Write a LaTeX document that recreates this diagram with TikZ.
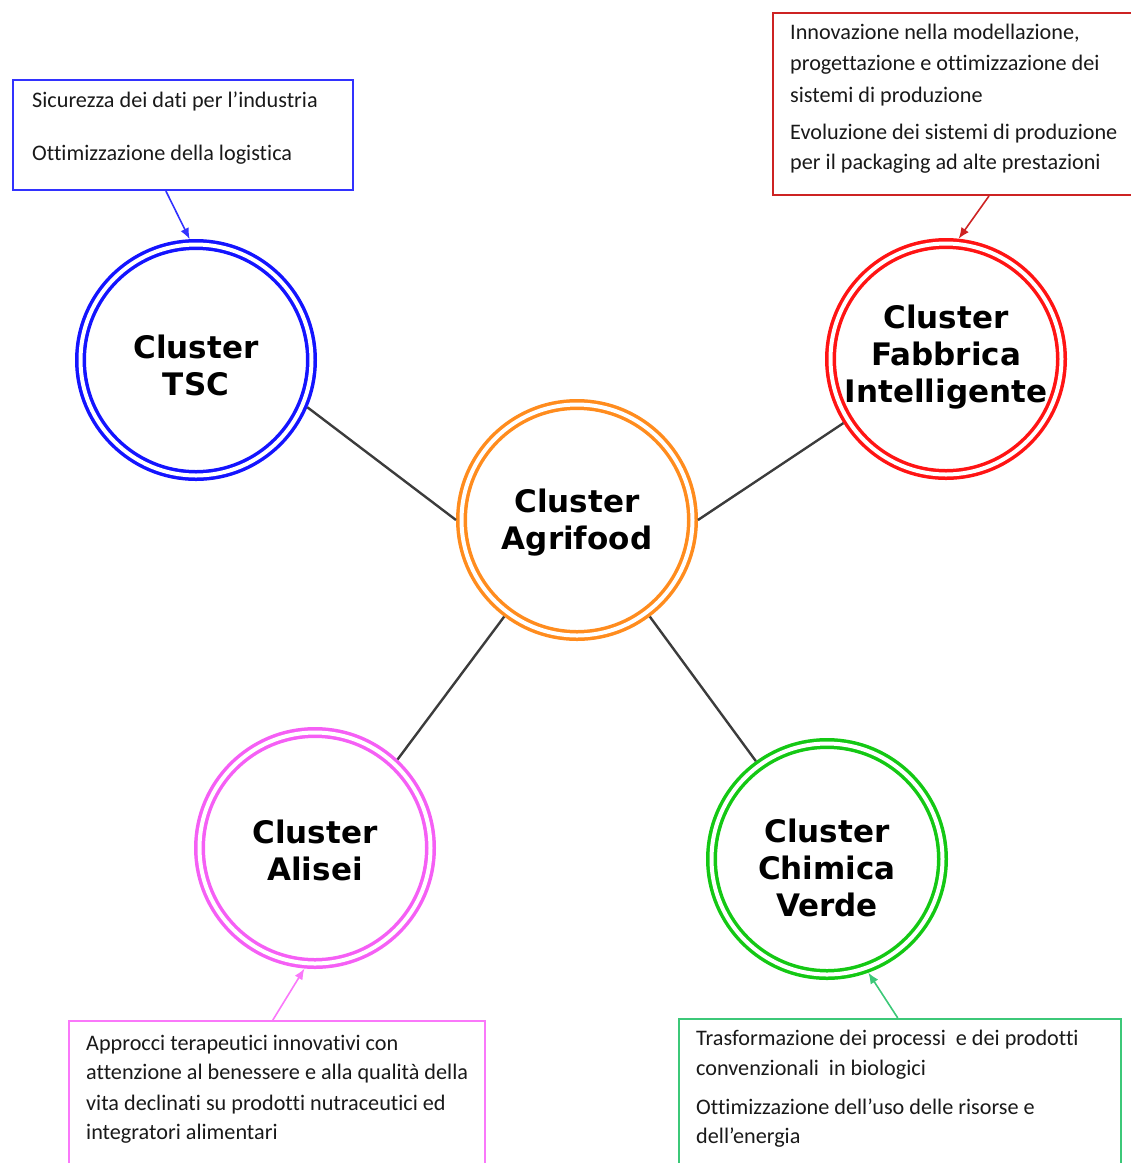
\documentclass[tikz,border=0pt]{standalone}
\usepackage{fontspec}
\setmainfont{Carlito}[Ligatures=NoCommon]
\newfontfamily\clusterfont{DejaVu Sans}
\usetikzlibrary{arrows.meta,calc}
\definecolor{cblue}{RGB}{20,20,255}
\definecolor{corange}{RGB}{255,140,30}
\definecolor{cred}{RGB}{255,20,20}
\definecolor{cpink}{RGB}{245,95,245}
\definecolor{cgreen}{RGB}{20,200,20}
\definecolor{bblue}{RGB}{50,50,255}
\definecolor{bred}{RGB}{205,35,35}
\definecolor{bpink}{RGB}{250,120,250}
\definecolor{bgreen}{RGB}{60,200,120}
\definecolor{linkgray}{RGB}{60,60,60}
\definecolor{txtgray}{RGB}{25,25,25}
\begin{document}
\begin{tikzpicture}[x=1pt,y=-1pt,
  ring/.style={circle, draw=#1, line width=3.5pt, double=white, double distance=4pt,
    minimum size=231pt, inner sep=0pt, outer sep=5.5pt},
  ringtext/.style={align=center, inner sep=0pt, text=black,
    font=\clusterfont\bfseries\fontsize{31}{37}\selectfont},
  callout/.style={draw=#1, line width=2pt, rectangle, anchor=north west, inner sep=0pt},
  line/.style={anchor=mid west, inner sep=0pt, text=txtgray, yshift=-4.5pt,
    font=\fontsize{22.2}{26}\selectfont},
  link/.style={draw=linkgray, line width=2.4pt},
  pointer/.style={draw=#1, line width=1.6pt, -{Latex[length=11pt,width=9pt]}}
]
\clip (0,0) rectangle (1131,1163);

% circles
\node[ring=cblue]   (tsc)  at (196,360) {};
\node[ring=corange] (agri) at (577,520) {};
\node[ring=cred]    (fab)  at (946,359) {};
\node[ring=cpink]   (ali)  at (315,848) {};
\node[ring=cgreen]  (chim) at (827,859) {};

\node[ringtext] (tsct)  at (196,365) {Cluster\\TSC};
\node[ringtext] (agrit) at (577,523) {Cluster\\Agrifood};
\node[ringtext] (fabt)  at (946,357) {Cluster\\Fabbrica\\Intelligente};
\node[ringtext] (alit)  at (315,850) {Cluster\\Alisei};
\node[ringtext] (chimt) at (827,868) {Cluster\\Chimica\\Verde};

% links
\draw[link] (tsc.-23) -- (agri.west);
\draw[link] (agri.east) -- (fab.-148);
\draw[link] (agri.-127) -- (ali.47);
\draw[link] (agri.-53) -- (chim.126);

% callout boxes
\node[callout=bblue, minimum width=340pt, minimum height=110pt] (tscbox) at (12,79) {};
\node[callout=bred, minimum width=380pt, minimum height=182pt] (fabbox) at (772,12) {};
\node[callout=bpink, minimum width=416pt, minimum height=190pt] (alibox) at (68,1020) {};
\node[callout=bgreen, minimum width=442pt, minimum height=190pt] (chimbox) at (678,1018) {};

\node[line] (t1) at (32,101) {Sicurezza dei dati per l’industria};
\node[line] (t2) at (32,154) {Ottimizzazione della logistica};

\node[line] (f1) at (790,33) {Innovazione nella modellazione,};
\node[line] (f2) at (790,64) {progettazione e ottimizzazione dei};
\node[line] (f3) at (790,96) {sistemi di produzione};
\node[line] (f4) at (790,133) {Evoluzione dei sistemi di produzione};
\node[line] (f5) at (790,163) {per il packaging ad alte prestazioni};

\node[line] (a1) at (86,1044) {Approcci terapeutici innovativi con};
\node[line] (a2) at (86,1073) {attenzione al benessere e alla qualità della};
\node[line] (a3) at (86,1104) {vita declinati su prodotti nutraceutici ed};
\node[line] (a4) at (86,1133) {integratori alimentari};

\node[line] (c1) at (696,1039) {Trasformazione dei processi\ \ e dei prodotti};
\node[line] (c2) at (696,1069) {convenzionali\ \ in biologici};
\node[line] (c3) at (696,1108) {Ottimizzazione dell’uso delle risorse e};
\node[line] (c4) at (696,1137) {dell’energia};

% pointers
\draw[pointer=bblue] ($(tscbox.south west)!0.45!(tscbox.south east)$) -- (tsc.93);
\draw[pointer=bred] ($(fabbox.south west)!0.568!(fabbox.south east)$) -- (fab.84);
\draw[pointer=bpink] ($(alibox.north west)!0.49!(alibox.north east)$) -- (ali.-95);
\draw[pointer=bgreen] ($(chimbox.north west)!0.495!(chimbox.north east)$) -- (chim.-70);
\end{tikzpicture}
\end{document}
